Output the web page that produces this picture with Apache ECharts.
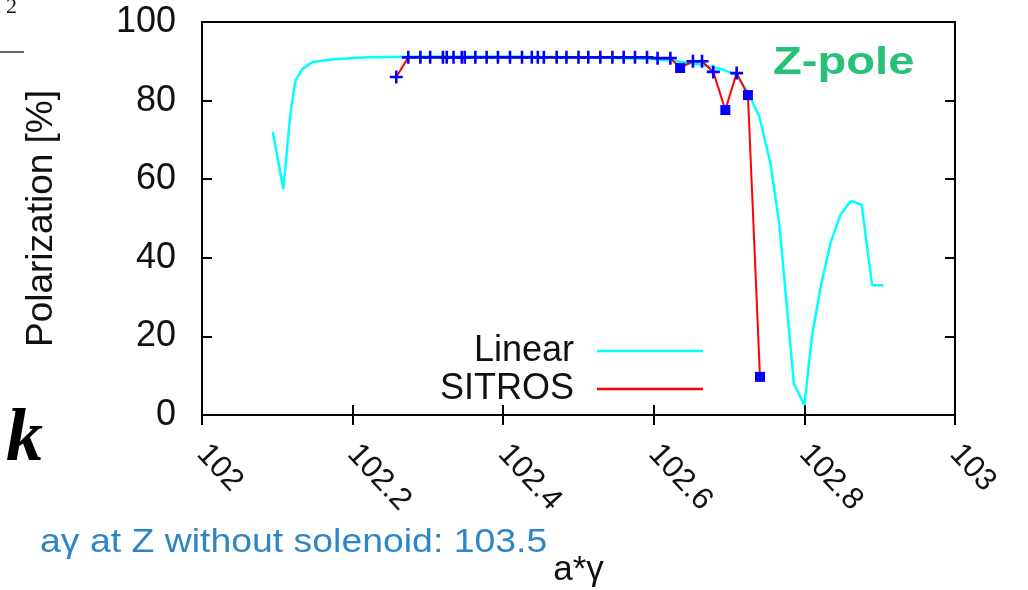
<!DOCTYPE html>
<html>
<head>
<meta charset="utf-8">
<script src="https://cdn.jsdelivr.net/npm/echarts@6/dist/echarts.min.js"></script>
<style>
  html, body { margin: 0; padding: 0; background: #fff; }
  #chart { width: 1028px; height: 590px; }
</style>
</head>
<body>
<div id="chart"></div>
<script>
// Linear (cyan) curve
var linearX = [102.094, 102.108, 102.117, 102.124, 102.133, 102.147, 102.175, 102.22, 102.3, 102.4,
    102.5, 102.6, 102.63, 102.66, 102.69, 102.71, 102.725, 102.74, 102.755, 102.767,
    102.777, 102.786, 102.8, 102.81, 102.822, 102.835, 102.848, 102.862, 102.876, 102.89, 102.905];
var linearY = [72, 57.5, 76, 85, 88, 89.8, 90.5, 91, 91.2, 91.2,
    91, 90.6, 90, 89.2, 88, 86.5, 82, 76, 64, 48,
    27, 8, 2.5, 20, 33, 44, 51, 54.5, 53.5, 33, 33];

// SITROS (red line, blue markers)
var sitrosX = [102.258, 102.274, 102.290, 102.303, 102.320, 102.325, 102.334, 102.345, 102.349, 102.363,
    102.378, 102.393, 102.409, 102.425, 102.438, 102.446, 102.454, 102.471, 102.484, 102.500,
    102.513, 102.529, 102.545, 102.560, 102.575, 102.591, 102.605, 102.622, 102.635, 102.652,
    102.664, 102.679, 102.695, 102.710, 102.725, 102.741];
var sitrosY = [86, 91, 91, 91, 91, 91, 91, 91, 91, 91,
    91, 91, 91, 91, 91, 91, 91, 91, 91, 91,
    91, 91, 91, 91, 91, 91, 90.8, 90.8, 88.3, 90,
    90, 87.3, 77.6, 87, 81.4, 9.7];

var seriesNames = ['Linear', 'SITROS'];

var FONT = 'Liberation Sans';
var PLUS = 'path://M4,0H6V4H10V6H6V10H4V6H0V4H4Z';
// points drawn as filled boxes in the reference
var boxedAt = [102.635, 102.695, 102.725, 102.741];

function zip(xs, ys) {
    var out = [];
    for (var i = 0; i < xs.length; i++) out.push([xs[i], ys[i]]);
    return out;
}

var sitrosData = zip(sitrosX, sitrosY).map(function (p) {
    if (boxedAt.indexOf(p[0]) >= 0) {
        return { value: p, symbol: 'rect', symbolSize: 10 };
    }
    return p;
});

var myChart = echarts.init(document.getElementById('chart'), null, { renderer: 'canvas' });

var hiddenAxis = {
    axisLine: { show: false },
    axisLabel: { show: false },
    splitLine: { show: false },
    axisTick: { show: true, inside: true, length: 10, lineStyle: { color: '#000', width: 2 } }
};

var legendIcon = 'path://M0,0H100V2.5H0Z';

var option = {
    animation: false,
    backgroundColor: '#fff',
    textStyle: { fontFamily: FONT },
    grid: {
        left: 202, right: 73, top: 22, bottom: 175,
        show: true, borderColor: '#000', borderWidth: 2,
        containLabel: false, outerBoundsMode: 'none'
    },
    xAxis: [{
        type: 'value', min: 102, max: 103, interval: 0.2,
        name: 'a*γ', nameLocation: 'middle', nameGap: 138,
        nameTextStyle: { fontSize: 35, color: '#111', fontFamily: FONT },
        axisLine: { show: true, lineStyle: { color: '#000', width: 2 } },
        axisTick: { show: true, inside: true, length: 10, lineStyle: { color: '#000', width: 2 } },
        axisLabel: { rotate: -47, margin: 34, fontSize: 31, color: '#111', fontFamily: FONT },
        splitLine: { show: false }
    }, Object.assign({ type: 'value', min: 102, max: 103, interval: 0.2, position: 'top' }, hiddenAxis)],
    yAxis: [{
        type: 'value', min: 0, max: 100, interval: 20,
        name: 'Polarization [%]', nameLocation: 'middle', nameGap: 142,
        nameTextStyle: { fontSize: 37, color: '#111', fontFamily: FONT },
        axisLine: { show: true, lineStyle: { color: '#000', width: 2 } },
        axisTick: { show: true, inside: true, length: 10, lineStyle: { color: '#000', width: 2 } },
        axisLabel: { margin: 26, fontSize: 36, color: '#111', fontFamily: FONT },
        splitLine: { show: false }
    }, Object.assign({ type: 'value', min: 0, max: 100, interval: 20, position: 'right' }, hiddenAxis)],
    // one legend per row so both line samples end at the same x
    legend: [{
        data: [{ name: seriesNames[0], icon: legendIcon, itemStyle: { color: '#00ffff' } }],
        right: 320, top: 328, align: 'right', itemWidth: 106, itemHeight: 3,
        textStyle: { fontSize: 36, color: '#111', fontFamily: FONT, padding: [0, 18, 0, 0] },
        selectedMode: false
    }, {
        data: [{ name: seriesNames[1], icon: legendIcon, itemStyle: { color: '#ff0000' } }],
        right: 320, top: 366, align: 'right', itemWidth: 106, itemHeight: 3,
        textStyle: { fontSize: 36, color: '#111', fontFamily: FONT, padding: [0, 18, 0, 0] },
        selectedMode: false
    }],
    series: [{
        name: seriesNames[0],
        type: 'line',
        data: zip(linearX, linearY),
        showSymbol: false,
        lineStyle: { color: '#00ffff', width: 2.5 },
        itemStyle: { color: '#00ffff' },
        z: 2
    }, {
        name: seriesNames[1],
        type: 'line',
        data: sitrosData,
        symbol: PLUS,
        symbolSize: 13,
        showAllSymbol: true,
        lineStyle: { color: '#ff0000', width: 2 },
        itemStyle: { color: '#0000ff' },
        z: 3
    }],
    graphic: [
        { type: 'text', left: 773, top: 45, scaleX: 1.24, style: { text: 'Z-pole', fill: '#27c178', font: 'bold 38px "Liberation Sans"' } },
        { type: 'text', left: 40, top: 526, scaleX: 1.1, style: { text: 'aγ at Z without solenoid: 103.5', fill: '#2f86c6', font: '34px "Liberation Sans"' } },
        { type: 'text', left: 6, top: 404, style: { text: 'k', fill: '#000', font: 'italic bold 74px "Liberation Serif"' } },
        { type: 'text', left: 6, top: -4, style: { text: '2', fill: '#111', font: '22px "Liberation Serif"' } },
        { type: 'line', shape: { x1: 0, y1: 52, x2: 24, y2: 52 }, style: { stroke: '#333', lineWidth: 1.5 } }
    ]
};

myChart.setOption(option);
</script>
</body>
</html>
